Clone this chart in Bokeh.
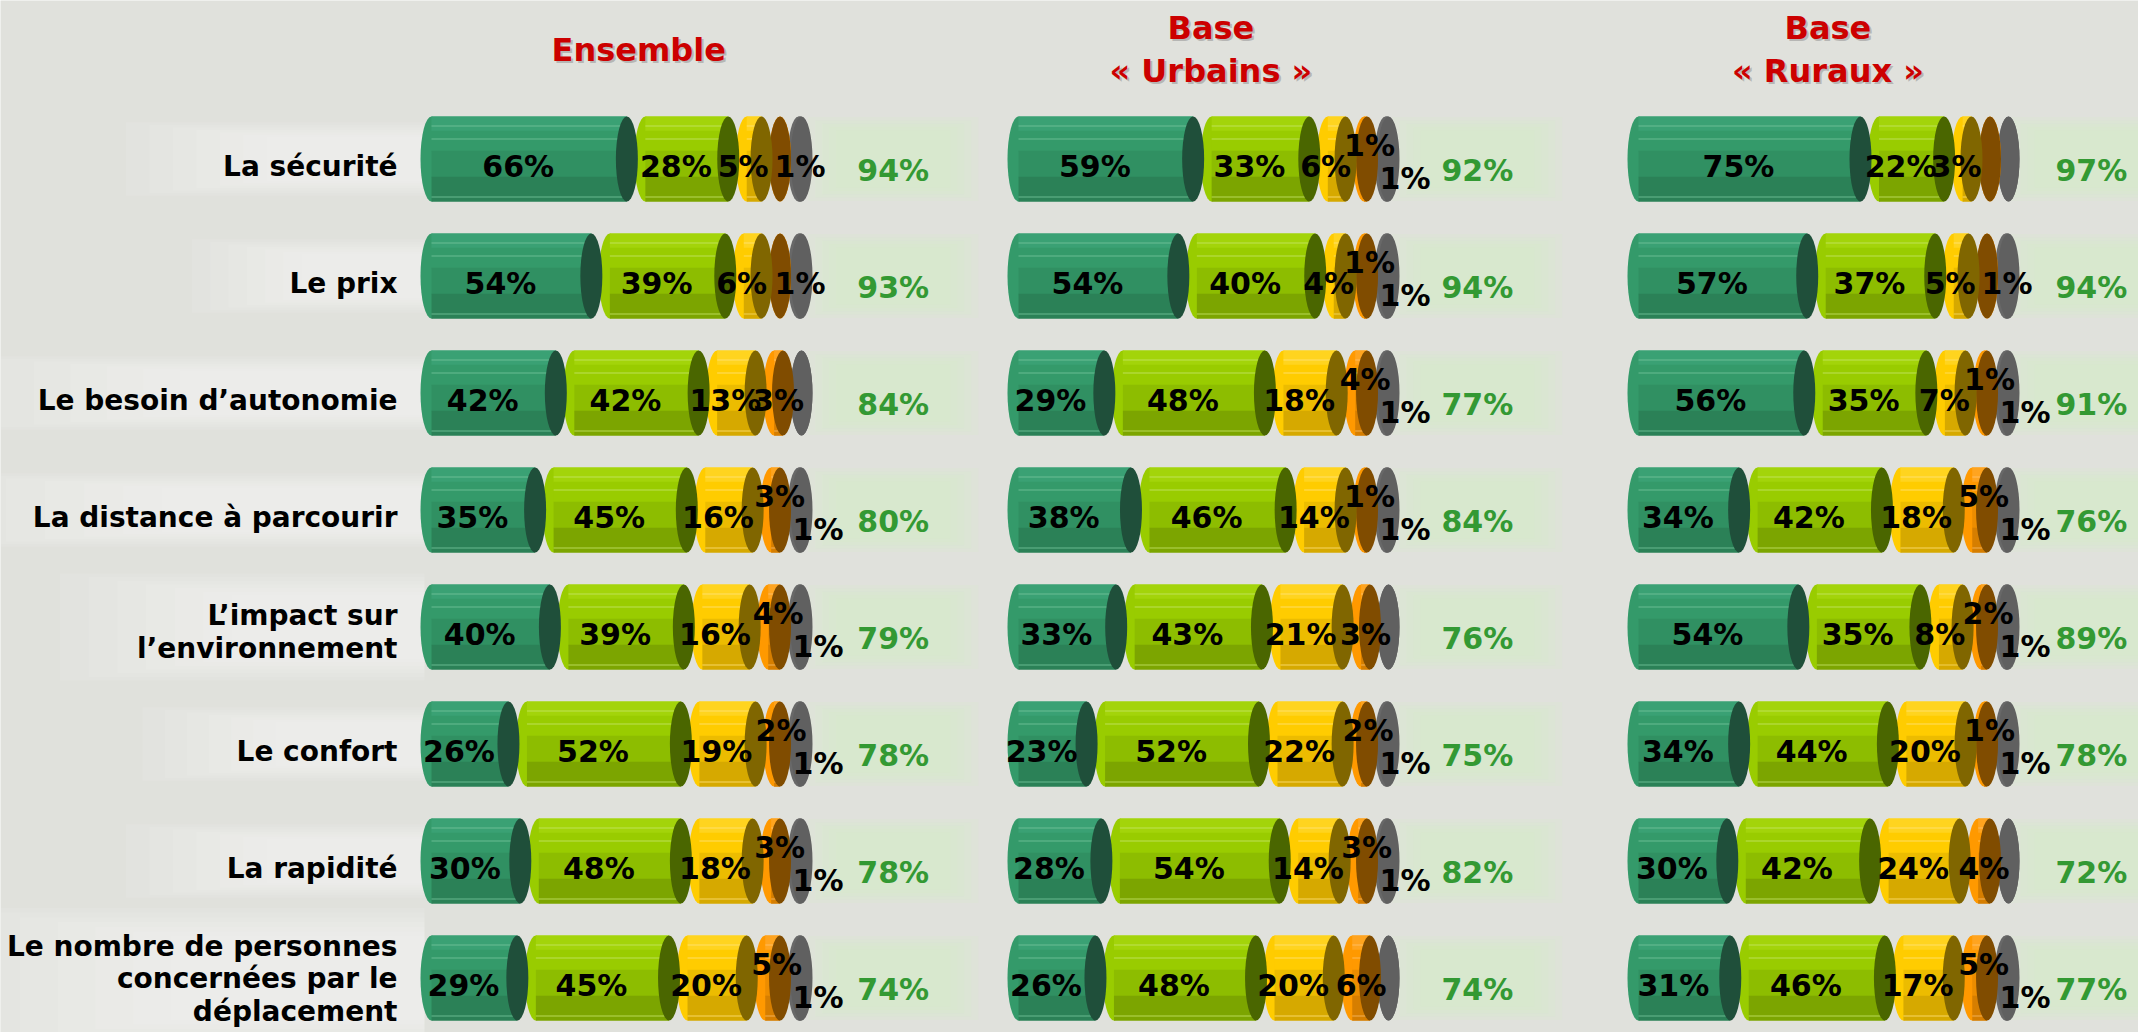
from bokeh.plotting import figure
from bokeh.models import Range1d, ColumnDataSource
from bokeh.embed import file_html
from bokeh.resources import INLINE
from bokeh.core.properties import value

# ---------------- data ----------------
rows = ["La sécurité", "Le prix", "Le besoin d’autonomie", "La distance à parcourir",
        "L’impact sur\nl’environnement", "Le confort", "La rapidité",
        "Le nombre de personnes\nconcernées par le\ndéplacement"]

panel_titles = ["Ensemble", "Base\n« Urbains »", "Base\n« Ruraux »"]

ens_tres = [66, 54, 42, 35, 40, 26, 30, 29]
ens_assez = [28, 39, 42, 45, 39, 52, 48, 45]
ens_peu = [5, 6, 13, 16, 16, 19, 18, 20]
ens_pas = [0, 0, 3, 3, 4, 2, 3, 5]
ens_nsp = [1, 1, 0, 1, 1, 1, 1, 1]
ens_total = [94, 93, 84, 80, 79, 78, 78, 74]

urb_tres = [59, 54, 29, 38, 33, 23, 28, 26]
urb_assez = [33, 40, 48, 46, 43, 52, 54, 48]
urb_peu = [6, 4, 18, 14, 21, 22, 14, 20]
urb_pas = [1, 1, 4, 1, 3, 2, 3, 6]
urb_nsp = [1, 1, 1, 1, 0, 1, 1, 0]
urb_total = [92, 94, 77, 84, 76, 75, 82, 74]

rur_tres = [75, 57, 56, 34, 54, 34, 30, 31]
rur_assez = [22, 37, 35, 42, 35, 44, 42, 46]
rur_peu = [3, 5, 7, 18, 8, 20, 24, 17]
rur_pas = [0, 0, 1, 5, 2, 1, 4, 5]
rur_nsp = [0, 1, 1, 1, 1, 1, 0, 1]
rur_total = [97, 94, 91, 76, 89, 78, 72, 77]

panels = [
    [ens_tres, ens_assez, ens_peu, ens_pas, ens_nsp],
    [urb_tres, urb_assez, urb_peu, urb_pas, urb_nsp],
    [rur_tres, rur_assez, rur_peu, rur_pas, rur_nsp],
]
totals = [ens_total, urb_total, rur_total]

# ---------------- style / layout ----------------
W, H = 2138, 1032
BG = "#e0e1dc"
FONT = "DejaVu Sans"
PX_X = 2.96          # pixels per percentage point
PX_Y = 117.0         # pixels per row
X0_PX = 431          # canvas x of 0 % in first panel
Y0_PX = 158.5        # canvas y of first row
PANEL_PX = [431, 1018, 1638]
PANEL_OFF = [(px - X0_PX) / PX_X for px in PANEL_PX]
GAP = 18.5 / PX_X
BAR_H = 85
CAP_W = 22
TOTAL_X = [156, 155, 153]
TITLE_X = [70, 65, 64]

SERIES_STYLE = [
    dict(bands=["#3aa174", "#349a6a", "#309062", "#2b8157"], cap="#1f4f3a", stripe="#74c49c"),
    dict(bands=["#a3d40a", "#99cc00", "#8dbd00", "#7ca500"], cap="#4a6600", stripe="#c6e66a"),
    dict(bands=["#ffd41f", "#ffcc00", "#ecbc00", "#d6a900"], cap="#806600", stripe="#ffe27a"),
    dict(bands=["#ffa41f", "#ff9900", "#ec8d00", "#d67e00"], cap="#804c00", stripe="#ffc47a"),
    dict(bands=["#6e6e6e", "#686868", "#626262", "#5c5c5c"], cap="#606060", stripe="#8a8a8a"),
]
BAND_EDGES = [-42.5, -28, -8, 18, 42.5]


def ydat(cy):
    return (Y0_PX - cy) / PX_Y


p = figure(width=W, height=H,
           x_range=Range1d(-X0_PX / PX_X, (W - X0_PX) / PX_X),
           y_range=Range1d((Y0_PX - H) / PX_Y, Y0_PX / PX_Y),
           output_backend="svg", toolbar_location=None, min_border=0,
           x_axis_location=None, y_axis_location=None)
p.grid.visible = False
p.outline_line_color = None
p.background_fill_color = BG
p.border_fill_color = BG

row_y = [-k for k in range(len(rows))]

# ---------- soft glows behind row labels ----------
for k, lab in enumerate(rows):
    lines = lab.split("\n")
    wtxt = max(len(l) for l in lines) * 16.5
    right = 424
    left = 397 - wtxt - 90
    hh = 70 + 32 * (len(lines) - 1)
    n = 7
    for m in range(n):
        f = 1 - m / n
        ww = (right - left) * (0.45 + 0.55 * f)
        p.rect(x=[(right - ww / 2 - X0_PX) / PX_X], y=[row_y[k]], width=ww, height=hh * (0.55 + 0.5 * f),
               width_units="screen", height_units="screen",
               fill_color="white", fill_alpha=0.085, line_color=None)

# ---------- glows behind totals ----------
for j in range(3):
    for k in range(len(rows)):
        for m in range(5):
            f = 1 - m / 5
            p.rect(x=[PANEL_OFF[j] + TOTAL_X[j]], y=[row_y[k]], width=100 + 70 * f, height=50 + 34 * f,
                   width_units="screen", height_units="screen",
                   fill_color="#d0f2c2", fill_alpha=0.11, line_color=None)

# ---------- segment geometry ----------
segL = [[] for _ in range(5)]
segR = [[] for _ in range(5)]
segY = [[] for _ in range(5)]
lab_x, lab_y, lab_t, lab_dx, lab_dy = [], [], [], [], []
for j, series in enumerate(panels):
    for k in range(len(rows)):
        vals = [s[k] for s in series]
        cum = 0
        for i, v in enumerate(vals):
            L = PANEL_OFF[j] + cum + i * GAP
            R = L + v
            cum += v
            segL[i].append(L)
            segR[i].append(R)
            segY[i].append(row_y[k])
            if v > 0:
                dx, dy = -11, 7
                if i == 3 and vals[4] > 0:
                    dx, dy = 4, -14
                elif i == 4 and vals[3] > 0:
                    dx, dy = 18, 19
                elif i >= 3:
                    dx = 0
                lab_x.append((L + R) / 2)
                lab_y.append(row_y[k])
                lab_t.append(f"{v}%")
                lab_dx.append(dx)
                lab_dy.append(dy)

# draw right-most series first so left caps overlap the next segment's left edge
for i in reversed(range(5)):
    st = SERIES_STYLE[i]
    L = segL[i]
    R = segR[i]
    Y = segY[i]
    p.ellipse(x=L, y=Y, width=CAP_W, height=BAR_H, width_units="screen", height_units="screen",
              fill_color=st["bands"][1], line_color=None)
    mid = [(a + b) / 2 for a, b in zip(L, R)]
    wid = [b - a for a, b in zip(L, R)]
    for b in range(4):
        t, bt = BAND_EDGES[b], BAND_EDGES[b + 1]
        off = (t + bt) / 2
        p.rect(x=mid, y=[y - off / PX_Y for y in Y], width=wid, height=bt - t + 0.6,
               height_units="screen", fill_color=st["bands"][b], line_color=None)
    for off in (-33, -20, 38):
        p.rect(x=mid, y=[y - off / PX_Y for y in Y], width=wid, height=1.3,
               height_units="screen", fill_color=st["stripe"], fill_alpha=0.55, line_color=None)
    p.ellipse(x=R, y=Y, width=CAP_W, height=BAR_H, width_units="screen", height_units="screen",
              fill_color=st["cap"], line_color=None)

# ---------- value labels ----------
src = ColumnDataSource(dict(x=lab_x, y=lab_y, t=lab_t, dx=lab_dx, dy=lab_dy))
p.text(x="x", y="y", text="t", x_offset="dx", y_offset="dy", source=src,
       text_font=value(FONT), text_font_style="bold", text_font_size="30px",
       text_color="black", text_align="center", text_baseline="middle")

# ---------- totals ----------
for j in range(3):
    p.text(x=[PANEL_OFF[j] + TOTAL_X[j]] * len(rows), y=row_y, text=[f"{t}%" for t in totals[j]],
           y_offset=11, text_font=value(FONT), text_font_style="bold", text_font_size="30px",
           text_color="#339933", text_align="center", text_baseline="middle")

# ---------- row labels ----------
row_dy = [7 if "\n" not in r else (5 if r.count("\n") == 1 else 1) for r in rows]
src_rows = ColumnDataSource(dict(x=[0] * len(rows), y=row_y, t=rows, dy=row_dy))
p.text(x="x", y="y", text="t", x_offset=-34, y_offset="dy", source=src_rows,
       text_font=value(FONT), text_font_style="bold", text_font_size="28px",
       text_color="black", text_align="right", text_baseline="middle", text_line_height=0.98)

# ---------- panel titles ----------
for j, t in enumerate(panel_titles):
    for (ox, oy, col, a) in [(2, 2, "#9a9a9a", 0.6), (0, 0, "#cc0000", 1.0)]:
        p.text(x=[PANEL_OFF[j] + TITLE_X[j]], y=[ydat(49)], text=[t], x_offset=ox, y_offset=oy,
               text_font=value(FONT), text_font_style="bold", text_font_size="32px",
               text_color=col, text_alpha=a, text_align="center", text_baseline="middle",
               text_line_height=1.15)

open("out.html", "w").write(file_html(p, INLINE))
